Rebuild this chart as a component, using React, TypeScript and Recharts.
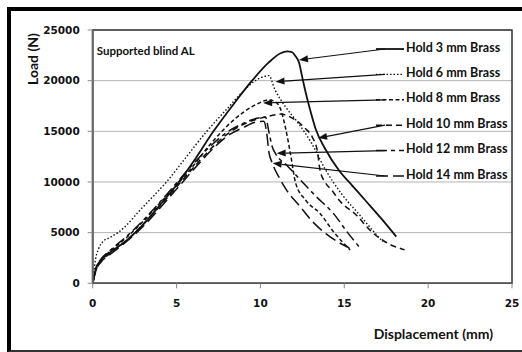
import React from 'react';
import { LineChart, Line, XAxis, YAxis, CartesianGrid, ReferenceArea, ReferenceDot } from 'recharts';

// axis ticks
const xTicks = [0, 5, 10, 15, 20, 25];
const yTicks = [0, 5000, 10000, 15000, 20000, 25000];

// displacement (mm) / load (N) per hold distance
const hold3X = [0, 0.2, 0.5, 1, 2, 3, 4, 5, 6, 7.2, 8.5, 9.5, 10.5, 11.2, 11.6, 11.9, 12.1, 12.3, 12.5, 12.66, 13.0, 13.3, 13.85, 14.7, 15.5, 16.3, 17.2, 18.1];
const hold3Y = [0, 1500, 2300, 3000, 4200, 5800, 7700, 9700, 12000, 15000, 17900, 20000, 21800, 22700, 22900, 22800, 22400, 21800, 20300, 19100, 16900, 15200, 13300, 11100, 9600, 8100, 6400, 4600];

const hold6X = [0, 0.15, 0.35, 0.6, 1.0, 1.5, 2.0, 2.7, 3.5, 4.4, 5.5, 6.8, 8.0, 9.0, 9.6, 10.2, 10.5, 10.87, 11.5, 12.26, 13.06, 13.85, 14.85, 15.94, 16.6, 17.3];
const hold6Y = [0, 2200, 3400, 4100, 4500, 5000, 5700, 7000, 8400, 10000, 12300, 15000, 17200, 19000, 19900, 20400, 20500, 19100, 17400, 15800, 13800, 11300, 8800, 6700, 5400, 4100];

const hold8X = [0, 0.2, 0.5, 1, 2, 3, 4, 5, 6, 7, 8, 9, 9.8, 10.5, 10.9, 11.2, 11.5, 11.8, 12.1, 12.7, 13.55, 14.4, 15.35];
const hold8Y = [0, 1400, 2300, 3100, 4500, 6100, 7900, 9700, 11600, 13700, 15500, 16900, 17700, 18100, 17900, 17200, 15300, 12700, 9900, 8200, 6900, 5000, 3300];

const hold10X = [0, 0.2, 0.5, 1, 2, 3, 4, 5, 6, 7, 8, 9, 10, 10.8, 11.2, 12.0, 12.66, 13.1, 13.4, 13.55, 13.85, 14.25, 14.75, 15.74, 16.5, 17.43, 18.6];
const hold10Y = [0, 1300, 2200, 2900, 4200, 5800, 7600, 9500, 11400, 13200, 14700, 15700, 16300, 16600, 16700, 16200, 15300, 14400, 13000, 11200, 10000, 9200, 8100, 6700, 5300, 4100, 3300];

const hold12X = [0, 0.2, 0.5, 1, 2, 3, 4, 5, 6, 7, 8, 9, 9.8, 10.3, 10.5, 10.7, 10.9, 11.6, 12.5, 13.3, 14.35, 15.2, 15.94];
const hold12Y = [0, 1500, 2400, 3200, 4600, 6200, 8000, 9900, 11800, 13500, 14900, 15800, 16300, 16400, 15000, 13500, 12800, 11600, 10000, 8600, 6900, 5000, 3500];

const hold14X = [0, 0.2, 0.5, 1, 2, 3, 4, 5, 6, 7, 8, 9, 9.7, 10.2, 10.4, 10.5, 10.7, 11.1, 11.6, 12.3, 13.1, 13.9, 14.6, 15.3];
const hold14Y = [0, 1300, 2100, 2800, 4100, 5600, 7400, 9300, 11200, 13000, 14500, 15400, 15900, 16000, 14500, 13000, 11900, 10500, 9100, 7700, 6100, 4900, 4100, 3500];

const seriesNames = ['Hold 3 mm Brass', 'Hold 6 mm Brass', 'Hold 8 mm Brass', 'Hold 10 mm Brass', 'Hold 12 mm Brass', 'Hold 14 mm Brass'];

// where each callout arrow points on its curve
const arrowTipX = [12.3, 10.9, 10.16, 13.44, 10.97, 10.73];
const arrowTipY = [22050, 19900, 17800, 14340, 12830, 11840];

const toPoints = (xs: number[], ys: number[]) => xs.map((x, i) => ({ x, y: ys[i] }));

const series = [
  toPoints(hold3X, hold3Y),
  toPoints(hold6X, hold6Y),
  toPoints(hold8X, hold8Y),
  toPoints(hold10X, hold10Y),
  toPoints(hold12X, hold12Y),
  toPoints(hold14X, hold14Y),
];

const lineStyles = [
  { dash: undefined, width: 1.8 },
  { dash: '1.5 2', width: 1.4 },
  { dash: '4 2.5', width: 1.5 },
  { dash: '6 4', width: 1.5 },
  { dash: '11 4 4 4', width: 1.5 },
  { dash: '12 5', width: 1.5 },
];

const INK = '#111';
const TEXT_FONT = 'Lato, "Open Sans", sans-serif';
const TICK_FONT = '"DejaVu Sans", Verdana, sans-serif';

// callout: sample line + name on the right, arrow to the curve
const calloutShape = (i: number) => (props: any) => {
  const { cx, cy } = props;
  const rowY = 47 + i * 25.4;
  const sx = 385;
  const sy = rowY + 2;
  const dx = cx - sx;
  const dy = cy - sy;
  const len = Math.sqrt(dx * dx + dy * dy);
  const ux = dx / len;
  const uy = dy / len;
  const headL = 9;
  const headW = 3.5;
  const bx = cx - ux * headL;
  const by = cy - uy * headL;
  const head = `${cx},${cy} ${bx - uy * headW},${by + ux * headW} ${bx + uy * headW},${by - ux * headW}`;
  return (
    <g>
      <line x1={376} y1={sy} x2={404} y2={sy} stroke={INK} strokeWidth={lineStyles[i].width} strokeDasharray={lineStyles[i].dash} />
      <line x1={sx} y1={sy} x2={bx} y2={by} stroke={INK} strokeWidth={1.2} />
      <polygon points={head} fill={INK} />
      <text x={406} y={rowY} dominantBaseline="central" fontFamily={TEXT_FONT} fontWeight={700} fontSize={12.5} fill={INK}>
        {seriesNames[i]}
      </text>
    </g>
  );
};

export default function App() {
  return (
    <div style={{ position: 'absolute', left: 0, top: 0, width: 522, height: 352, overflow: 'hidden', background: '#fff' }}>
      {/* outer frame, open on the right */}
      <div
        style={{
          position: 'absolute', left: 7, top: 7, width: 515, height: 345, boxSizing: 'border-box',
          borderLeft: '4px solid #000', borderTop: '4px solid #000', borderBottom: '2px solid #333',
        }}
      />
      <div style={{ position: 'absolute', left: 0, top: 0 }}>
        <LineChart width={522} height={352} margin={{ top: 30, right: 10, bottom: 38.7, left: 0 }}>
          <CartesianGrid vertical={false} stroke="#b3b3b3" strokeWidth={1} />
          <XAxis
            type="number"
            dataKey="x"
            domain={[0, 25]}
            ticks={xTicks}
            allowDataOverflow
            height={30}
            tickSize={5}
            tickMargin={11}
            axisLine={{ stroke: '#555', strokeWidth: 1.5 }}
            tickLine={{ stroke: '#888' }}
            tick={{ fontFamily: TICK_FONT, fontWeight: 700, fontSize: 10.5, fill: INK }}
            label={{
              content: ({ viewBox }: any) => (
                <text x={viewBox.x + viewBox.width - 19} y={333} textAnchor="end" dominantBaseline="central"
                  fontFamily={TEXT_FONT} fontWeight={700} fontSize={14} fill={INK}>
                  Displacement (mm)
                </text>
              ),
            }}
          />
          <YAxis
            type="number"
            domain={[0, 25000]}
            ticks={yTicks}
            allowDataOverflow
            width={92.7}
            tickSize={5}
            tickMargin={8}
            axisLine={{ stroke: '#666', strokeWidth: 2 }}
            tickLine={{ stroke: '#888' }}
            tick={{ fontFamily: TICK_FONT, fontWeight: 700, fontSize: 10.5, fill: INK }}
            label={{
              content: () => (
                <text x={32} y={59} transform="rotate(-90 32 59)" textAnchor="middle" dominantBaseline="central"
                  fontFamily={TEXT_FONT} fontWeight={700} fontSize={14} fill={INK}>
                  Load (N)
                </text>
              ),
            }}
          />
          <ReferenceArea
            x1={0} x2={25} y1={0} y2={25000}
            fill="none" stroke="#333" strokeWidth={1.5} ifOverflow="visible"
            label={{
              content: ({ viewBox }: any) => (
                <text x={viewBox.x + 4} y={viewBox.y + 20} dominantBaseline="central"
                  fontFamily={TEXT_FONT} fontWeight={700} fontSize={11.5} fill={INK}>
                  Supported blind AL
                </text>
              ),
            }}
          />
          {series.map((pts, i) => (
            <Line
              key={seriesNames[i]}
              data={pts}
              dataKey="y"
              type="monotone"
              dot={false}
              activeDot={false}
              stroke={INK}
              strokeWidth={lineStyles[i].width}
              strokeDasharray={lineStyles[i].dash}
              isAnimationActive={false}
            />
          ))}
          {arrowTipX.map((tx, i) => (
            <ReferenceDot key={`arrow-${i}`} x={tx} y={arrowTipY[i]} r={2} shape={calloutShape(i)} />
          ))}
        </LineChart>
      </div>
    </div>
  );
}
